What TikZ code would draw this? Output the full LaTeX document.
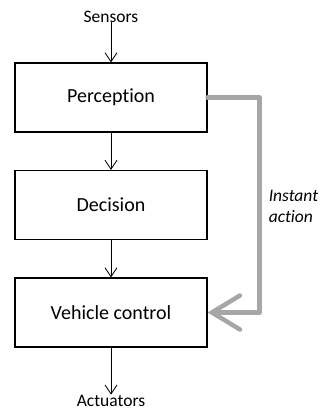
\documentclass[tikz,border=0pt]{standalone}
\usepackage{fontspec}
\setmainfont{Carlito}[Ligatures=NoCommon]
\usepackage{tikz}
\usetikzlibrary{positioning}
\usetikzlibrary{arrows.meta}
\definecolor{shortgray}{RGB}{166,166,166}

\begin{document}
\begin{tikzpicture}[x=1pt,y=1pt,
    block/.style={rectangle,draw,line width=1.2pt,minimum width=192pt,minimum height=69pt,
                  font=\fontsize{20}{24}\selectfont},
    extlabel/.style={font=\fontsize{17.5}{21}\selectfont,inner sep=0pt}]

		  \useasboundingbox (0,0) rectangle (321,-410);

		  % Kette
		  \node[block] (perc) at (111,-97.5) {Perception};
		  \node[block] (dec)  [below=107.5pt of perc.center,anchor=center] {Decision};
		  \node[block] (veh)  [below=107.5pt of dec.center,anchor=center] {Vehicle control};

		  % Ein- und Ausgang
		  \node[extlabel] (sens) [above=81pt of perc.center,anchor=center] {Sensors};
		  \node[extlabel] (act)  [below=88pt of veh.center,anchor=center] {Actuators};

		  \node[extlabel,align=left,font=\fontsize{17.5}{21}\selectfont\itshape] (inst)
		     [right=61pt of dec.east,anchor=west,yshift=-1pt] {Instant\\action};

		  \path[-{Straight Barb[length=9pt,width=12pt]},line width=0.8pt]
			(sens) edge (perc)
			(perc) edge (dec)
			(dec)  edge (veh)
			(veh)  edge (act);

		  \draw[shortgray,line width=4.5pt,line cap=round,line join=round,
		        -{Straight Barb[length=28pt,width=34pt,line cap=round]}]
			(perc.east) -- ++(52,0) |- (veh.east);

\end{tikzpicture}
\end{document}
